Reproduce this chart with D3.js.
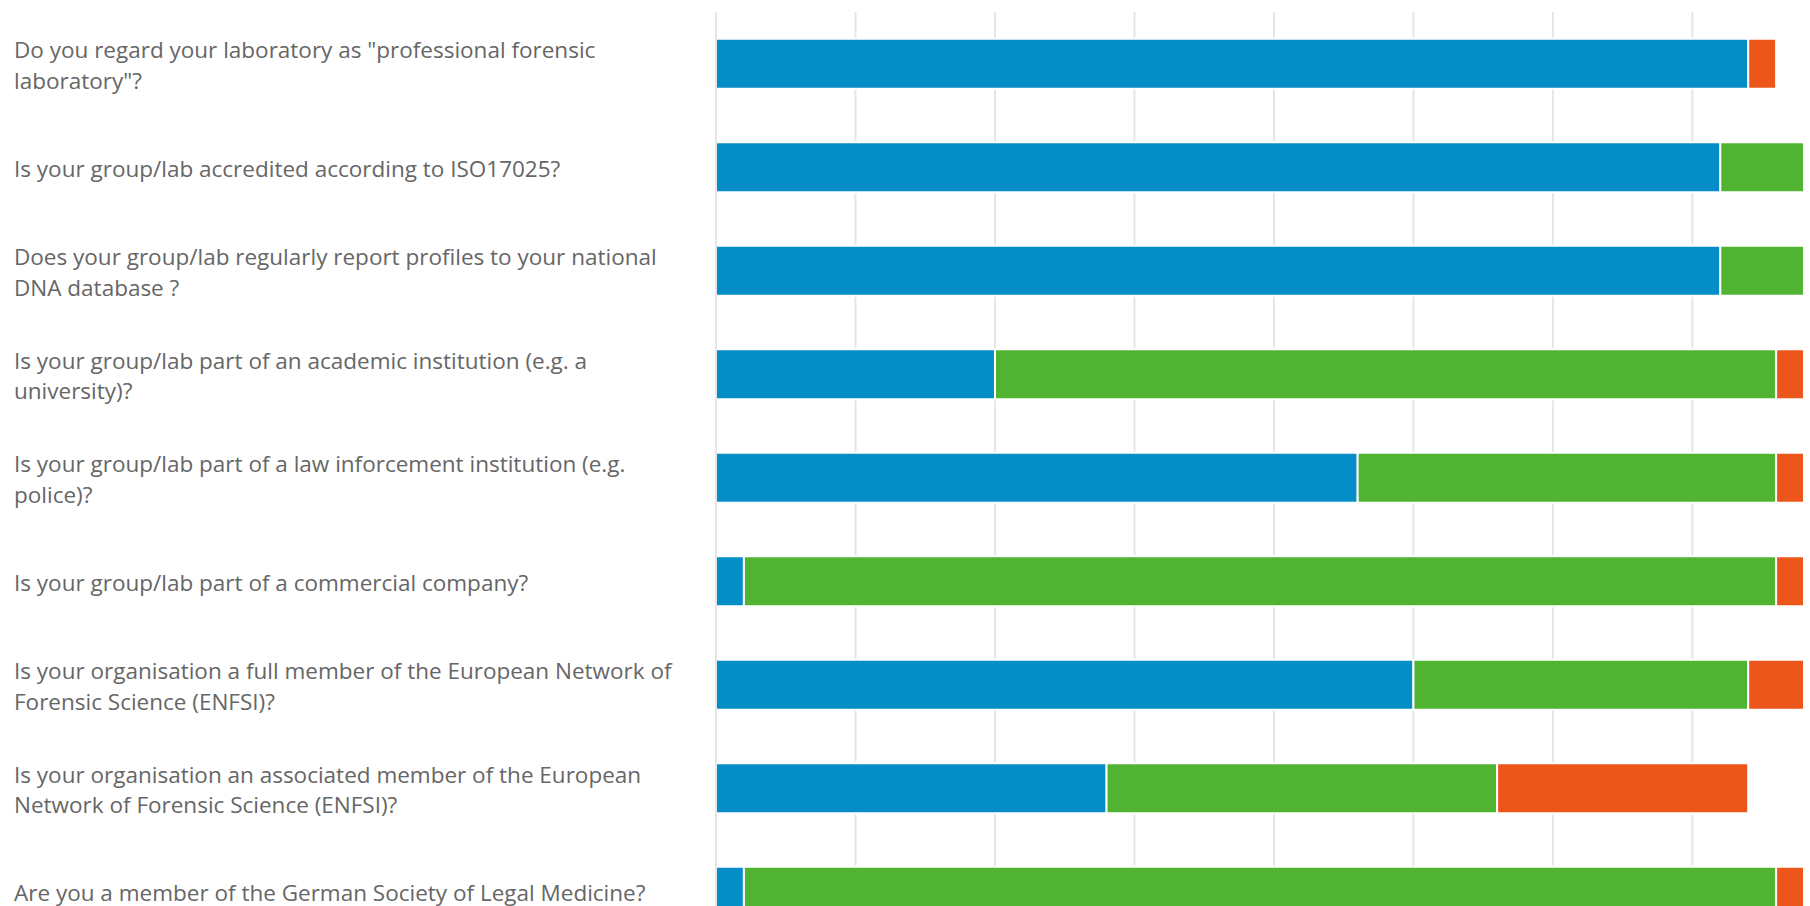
<!DOCTYPE html>
<html>
<head>
<meta charset="utf-8">
<script src="https://cdn.jsdelivr.net/npm/d3@7"></script>
<style>
  html, body { margin: 0; padding: 0; background: #fff; overflow: hidden; }
  svg { display: block; }
</style>
</head>
<body>
<div id="chart"></div>
<script>
// Survey questions (one horizontal stacked bar each)
const categories = [
  'Do you regard your laboratory as "professional forensic laboratory"?',
  'Is your group/lab accredited according to ISO17025?',
  'Does your group/lab regularly report profiles to your national DNA database ?',
  'Is your group/lab part of an academic institution (e.g. a university)?',
  'Is your group/lab part of a law inforcement institution (e.g. police)?',
  'Is your group/lab part of a commercial company?',
  'Is your organisation a full member of the European Network of Forensic Science (ENFSI)?',
  'Is your organisation an associated member of the European Network of Forensic Science (ENFSI)?',
  'Are you a member of the German Society of Legal Medicine?'
];

// Number of answers per question
const seriesNames = ['Yes', 'No', 'No answer'];
const yesValues      = [37, 36, 36, 10, 23, 1, 25, 14, 1];
const noValues       = [0, 3, 3, 28, 15, 37, 12, 14, 37];
const noAnswerValues = [1, 0, 0, 1, 1, 1, 2, 9, 1];
const seriesColors = ['#058DC7', '#50B432', '#ED561B'];

const xMax = 39;
const xTicks = [0, 5, 10, 15, 20, 25, 30, 35];

const width = 1810;
const plotLeft = 716, plotRight = 1804;
const plotTop = 12;
const rowStep = 103.5;
const plotBottom = plotTop + rowStep * categories.length;
const height = plotBottom + 10;

const svg = d3.select('#chart').append('svg')
  .attr('width', width)
  .attr('height', height);

const x = d3.scaleLinear().domain([0, xMax]).range([plotLeft, plotRight]);
const y = d3.scaleBand().domain(categories).range([plotTop, plotBottom]).paddingInner(0.517).paddingOuter(0.2585);

// Vertical grid lines
svg.append('g')
  .selectAll('line')
  .data(xTicks.slice(1))
  .join('line')
  .attr('x1', d => x(d)).attr('x2', d => x(d))
  .attr('y1', plotTop).attr('y2', plotBottom)
  .attr('stroke', '#e6e6e6')
  .attr('stroke-width', 2);

// Stack the three answer series
const rows = categories.map((c, i) => ({
  category: c,
  Yes: yesValues[i],
  No: noValues[i],
  'No answer': noAnswerValues[i]
}));
const stacked = d3.stack().keys(seriesNames)(rows);

svg.append('g')
  .selectAll('g')
  .data(stacked)
  .join('g')
  .attr('fill', (d, i) => seriesColors[i])
  .selectAll('rect')
  .data(d => d.filter(s => s[1] - s[0] > 0))
  .join('rect')
  .attr('x', d => x(d[0]))
  .attr('width', d => x(d[1]) - x(d[0]))
  .attr('y', d => y(d.data.category))
  .attr('height', y.bandwidth())
  .attr('stroke', '#ffffff')
  .attr('stroke-width', 2);

// Zero line drawn over the bars
svg.append('line')
  .attr('x1', x(0)).attr('x2', x(0))
  .attr('y1', plotTop).attr('y2', plotBottom)
  .attr('stroke', '#e6e6e6')
  .attr('stroke-width', 2);

// Category labels, wrapped to the space left of the plot
const labelX = 14;
const maxLabelWidth = 680;
const lineHeight = 30.5;

const labels = svg.append('g')
  .attr('font-family', '"Open Sans", sans-serif')
  .attr('font-size', 22.5)
  .attr('fill', '#666666');

categories.forEach(cat => {
  const t = labels.append('text').attr('x', labelX);
  const words = cat.split(' ');
  const lines = [];
  let current = [];
  const probe = t.append('tspan');
  words.forEach(w => {
    const trial = current.concat(w).join(' ');
    probe.text(trial);
    if (probe.node().getComputedTextLength() > maxLabelWidth && current.length) {
      lines.push(current.join(' '));
      current = [w];
    } else {
      current.push(w);
    }
  });
  if (current.length) lines.push(current.join(' '));
  probe.remove();

  const cy = y(cat) + y.bandwidth() / 2;
  const firstY = cy - (lines.length - 1) * lineHeight / 2;
  lines.forEach((ln, i) => {
    t.append('tspan')
      .attr('x', labelX)
      .attr('y', firstY + i * lineHeight)
      .attr('dy', '0.43em')
      .text(ln);
  });
});
</script>
</body>
</html>
